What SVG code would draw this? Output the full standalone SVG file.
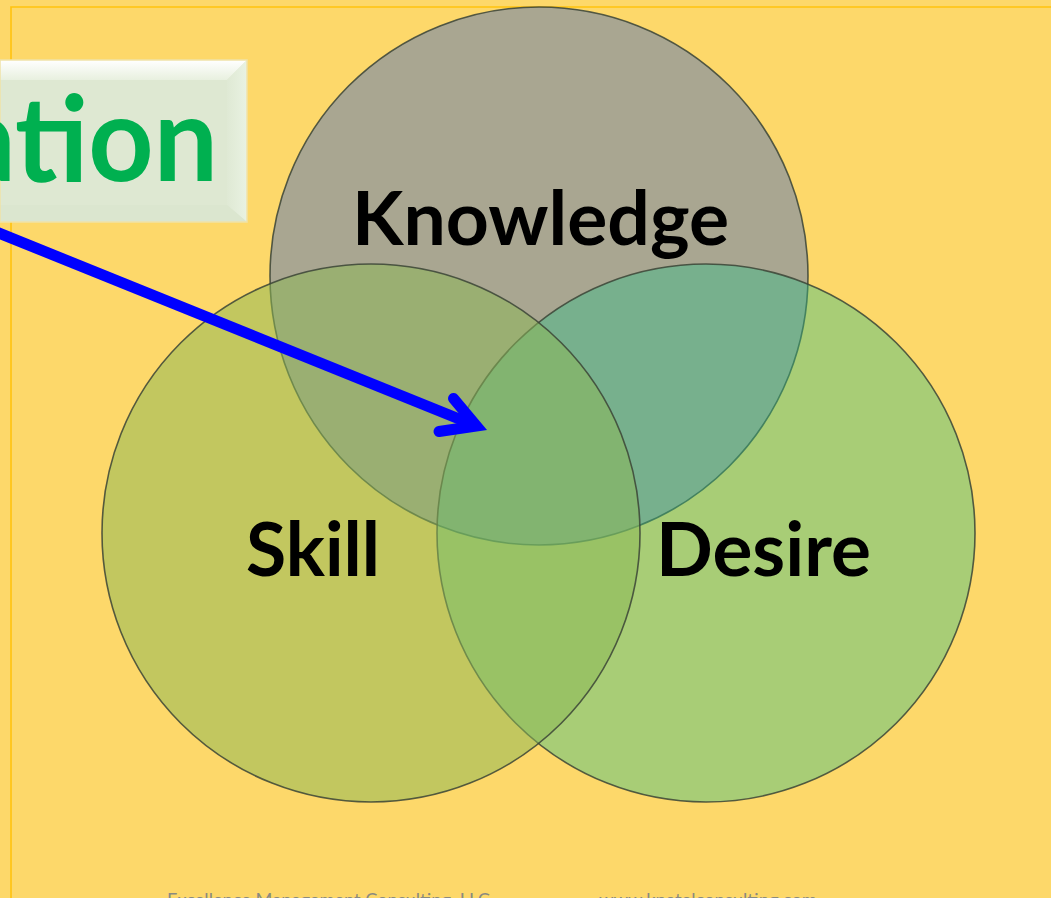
<svg xmlns="http://www.w3.org/2000/svg" width="1051" height="898" viewBox="0 0 1051 898">
<defs>
<style>
.circ{stroke:#3b4436;stroke-width:1.6;stroke-opacity:0.85}
.lbl{font-family:Lato,"Open Sans","Liberation Sans",sans-serif;font-weight:bold;font-size:74px;fill:#000}
.foot{font-family:Lato,"Liberation Sans",sans-serif;font-size:18px;fill:#8a8a80}
.arrow{stroke:#0000ff;stroke-width:11;fill:none}
</style>
<linearGradient id="bevTop" x1="0" y1="0" x2="0" y2="1">
<stop offset="0" stop-color="#ffffff"/>
<stop offset="1" stop-color="#e8f0df"/>
</linearGradient>
<linearGradient id="bevRight" x1="0" y1="0" x2="1" y2="0">
<stop offset="0" stop-color="#dfe9d4"/>
<stop offset="1" stop-color="#e9f2e2"/>
</linearGradient>
</defs>
<rect x="0" y="0" width="1051" height="898" fill="#fdd86a"/>
<g id="frame">
<path d="M11 898 V7 H1051" fill="none" stroke="#ffc20e" stroke-width="1.6"/>
</g>
<g id="knowledge">
<circle class="circ" cx="539" cy="276" r="269" fill="rgb(130,143,162)" fill-opacity="0.69"/>
</g>
<g id="desire">
<circle class="circ" cx="706" cy="533" r="269" fill="rgb(51,190,137)" fill-opacity="0.42"/>
</g>
<g id="skill">
<circle class="circ" cx="371" cy="533" r="269" fill="rgb(140,184,87)" fill-opacity="0.52"/>
</g>
<g id="labels">
<text class="lbl" x="352" y="245" textLength="377" lengthAdjust="spacingAndGlyphs">Knowledge</text>
<text class="lbl" x="246" y="576" textLength="134" lengthAdjust="spacingAndGlyphs">Skill</text>
<text class="lbl" x="656" y="576" textLength="215" lengthAdjust="spacingAndGlyphs">Desire</text>
</g>
<g id="connectors">
<line class="arrow" x1="-20" y1="225.4" x2="476.5" y2="426"/>
<polyline class="arrow" points="453.5,398.5 476.5,426 439,431.5" stroke-linecap="round" stroke-linejoin="miter"/>
</g>
<g id="title-box">
<rect x="0" y="60" width="247" height="162" fill="#dee8d2"/>
<polygon points="0,60 247,60 227,80 0,80" fill="url(#bevTop)"/>
<polygon points="247,60 247,222 227,205 227,80" fill="url(#bevRight)"/>
<polygon points="0,222 247,222 227,205 0,205" fill="#dbe6cf"/>
<rect x="0" y="60" width="247" height="162" fill="none" stroke="#f0e2a8" stroke-width="1.5"/>
<text x="-42" y="181" textLength="260" lengthAdjust="spacingAndGlyphs" font-family="Lato,'Open Sans','Liberation Sans',sans-serif" font-weight="bold" font-size="118" fill="#00b050">ation</text>
</g>
<g id="footer">
<text class="foot" x="167" y="906" textLength="323" lengthAdjust="spacingAndGlyphs">Excellence Management Consulting, LLC</text>
<text class="foot" x="599" y="906" textLength="218" lengthAdjust="spacingAndGlyphs">www.kpatelconsulting.com</text>
</g>
</svg>
